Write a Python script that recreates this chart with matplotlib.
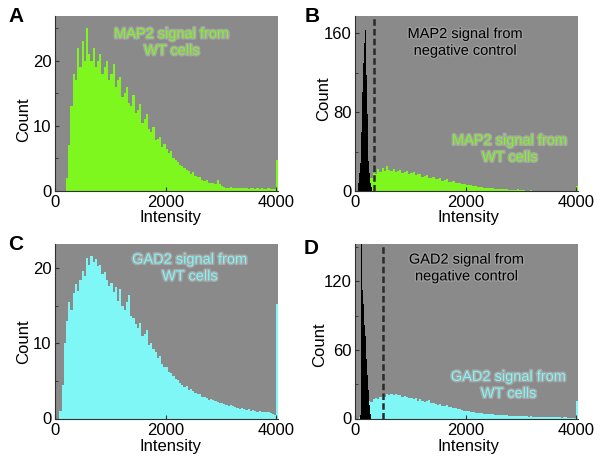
import numpy as np
import matplotlib
matplotlib.use("Agg")
import matplotlib.pyplot as plt
import matplotlib.patheffects as pe
from matplotlib.ticker import MultipleLocator

plt.rcParams['font.family'] = ['Liberation Sans', 'DejaVu Sans']

# ---------------- data ----------------
wt_bin_width = 40          # WT histograms: bins of 40 intensity units from 0
map2_wt_counts = [
    0, 0, 0, 0, 0, 2, 7, 13, 18, 17,
    22, 19, 23, 20, 25, 21, 20, 22, 19, 20,
    21, 18, 19, 20, 17, 18, 19.5, 16, 17, 17.5,
    14.5, 15, 16, 13.5, 13, 14.7, 12, 12.5, 13.4, 10.5,
    11, 11.9, 9.5, 9, 9.9, 7.8, 8, 8.3, 6.8, 7.3,
    6.5, 5.8, 6.2, 5.0, 4.8, 4.5, 4.0, 3.8, 3.5, 3.2,
    3.0, 2.6, 2.9, 2.3, 2.1, 2.2, 1.7, 1.6, 1.7, 1.3,
    1.2, 1.3, 1.1, 1.7, 1.0, 0.8, 0.6, 0.4, 0.5, 0.6,
    0.5, 0.4, 0.5, 0.5, 0.4, 0.5, 0.4, 0.3, 0.5, 0.4,
    0.3, 0.4, 0.3, 0.4, 0.3, 0.3, 0.4, 0.3, 0.3, 0.3,
    4.7,
]
gad2_wt_counts = [
    0, 0, 1, 4.5, 10, 13, 15.5, 14.5, 16.7, 17.9,
    17, 18.5, 19.6, 19, 21.4, 20.5, 21.7, 20.8, 21.2, 20.3,
    20.4, 19.2, 19.5, 18.5, 17.6, 18, 16.8, 17.5, 15.6, 17.2,
    15, 14.5, 15.5, 16.5, 13.6, 13.4, 12.6, 12.0, 12.7, 11,
    11.3, 11.8, 9.8, 10, 9.2, 8.8, 8.0, 8.3, 7.2, 6.9,
    6.8, 6.2, 6.0, 5.7, 5.2, 5.1, 4.7, 4.5, 4.2, 4.3,
    3.8, 3.9, 3.6, 3.4, 3.3, 3.2, 2.9, 2.8, 2.7, 2.5,
    2.6, 2.4, 2.3, 2.2, 2.1, 2.0, 1.9, 1.8, 1.7, 1.8,
    1.6, 1.5, 1.4, 1.3, 1.4, 1.2, 1.1, 1.2, 1.0, 1.1,
    1.0, 0.9, 1.0, 0.8, 0.9, 0.9, 0.8, 0.7, 0.6, 0.5,
    15.2,
]

neg_bin_width = 10         # negative-control histograms: bins of 10 units
map2_neg_start = 50
map2_neg_counts = [3, 8, 12, 18, 28, 40, 60, 80, 100, 118, 130, 142, 150,
                   163, 140, 118, 95, 78, 40, 30, 24, 18, 12, 8, 4, 2]
gad2_neg_start = 90
gad2_neg_counts = [3, 8, 200, 121, 112, 105, 100, 94, 82, 72, 62, 52, 45,
                   38, 33, 25, 18, 12, 8, 4]

map2_threshold = 335
gad2_threshold = 515

x_ticks = [0, 2000, 4000]
panel_letters = ['A', 'B', 'C', 'D']

# ---------------- style ----------------
GRAY = '#8a8a8a'
GREEN = '#7ef71e'
CYAN = '#80f7f7'
XMAX = 4030

fig = plt.figure(figsize=(6.0, 4.68), dpi=100)

W = 223 / 600
H = 175 / 468
pos = {
    'A': [55 / 600, 1 - 191 / 468, W, H],
    'B': [355 / 600, 1 - 191 / 468, W, H],
    'C': [55 / 600, 1 - 418.5 / 468, W, H],
    'D': [355 / 600, 1 - 418.5 / 468, W, H],
}

glow = [pe.Stroke(linewidth=2.2, foreground='#a6a6a6'), pe.Normal()]
dark_glow = [pe.Stroke(linewidth=2.0, foreground='#9c9c9c'), pe.Normal()]


def wt_edges(n):
    return np.arange(n + 1) * wt_bin_width


def neg_edges(start, n):
    return start + np.arange(n + 1) * neg_bin_width


def style(ax, ymax, major, minor, ylab_xy, xlab_xy):
    ax.set_facecolor(GRAY)
    ax.set_xlim(0, XMAX)
    ax.set_ylim(0, ymax)
    ax.set_xticks(x_ticks)
    ax.yaxis.set_major_locator(MultipleLocator(major))
    ax.yaxis.set_minor_locator(MultipleLocator(minor))
    for s in ['top', 'right']:
        ax.spines[s].set_visible(False)
    for s in ['left', 'bottom']:
        ax.spines[s].set_color('#303030')
        ax.spines[s].set_linewidth(0.8)
    ax.tick_params(axis='both', which='major', direction='in', length=3,
                   width=0.8, labelsize=12, color='#303030')
    ax.tick_params(axis='y', which='major', pad=2.5)
    ax.tick_params(axis='x', which='major', pad=3.2)
    ax.tick_params(axis='y', which='minor', direction='in', length=2,
                   width=0.6, color='#303030')
    ax.set_xlabel('Intensity', fontsize=12, va='center', ha='center')
    ax.set_ylabel('Count', fontsize=12, va='center', ha='center')
    ax.xaxis.set_label_coords(*xlab_xy)
    ax.yaxis.set_label_coords(*ylab_xy)


def label(ax, x, y, s, color, effects):
    ax.text(x, y, s, transform=ax.transAxes, ha='center', va='center',
            fontsize=10.5, color=color, linespacing=1.25, path_effects=effects)


# Panel A
axA = fig.add_axes(pos['A'])
axA.stairs(map2_wt_counts, wt_edges(len(map2_wt_counts)), fill=True,
           color=GREEN, linewidth=0)
style(axA, 26.9, 10, 5, (-0.14, 0.406), (0.519, -0.15))
label(axA, 0.525, 0.849, 'MAP2 signal from\nWT cells', GREEN, glow)

# Panel B
axB = fig.add_axes(pos['B'])
axB.stairs(map2_wt_counts, wt_edges(len(map2_wt_counts)), fill=True,
           color=GREEN, linewidth=0)
axB.stairs(map2_neg_counts, neg_edges(map2_neg_start, len(map2_neg_counts)),
           fill=True, color='black', linewidth=0)
axB.axvline(map2_threshold, color='#2a2a2a', lw=1.8, dashes=(2.6, 1.3))
style(axB, 177.5, 80, 40, (-0.142, 0.53), (0.511, -0.15))
label(axB, 0.496, 0.849, 'MAP2 signal from\nnegative control', 'black', dark_glow)
label(axB, 0.695, 0.24, 'MAP2 signal from\nWT cells', GREEN, glow)

# Panel C
axC = fig.add_axes(pos['C'])
axC.stairs(gad2_wt_counts, wt_edges(len(gad2_wt_counts)), fill=True,
           color=CYAN, linewidth=0)
style(axC, 23.3, 10, 5, (-0.14, 0.44), (0.519, -0.158))
label(axC, 0.606, 0.86, 'GAD2 signal from\nWT cells', CYAN, glow)

# Panel D
axD = fig.add_axes(pos['D'])
axD.stairs(gad2_wt_counts, wt_edges(len(gad2_wt_counts)), fill=True,
           color=CYAN, linewidth=0)
axD.stairs(gad2_neg_counts, neg_edges(gad2_neg_start, len(gad2_neg_counts)),
           fill=True, color='black', linewidth=0)
axD.axvline(gad2_threshold, color='#2a2a2a', lw=1.8, dashes=(2.6, 1.3))
style(axD, 153, 60, 30, (-0.16, 0.42), (0.507, -0.158))
label(axD, 0.502, 0.86, 'GAD2 signal from\nnegative control', 'black', dark_glow)
label(axD, 0.69, 0.19, 'GAD2 signal from\nWT cells', CYAN, glow)

# Panel letters
letter_pos = {'A': (16, 17), 'B': (312, 17), 'C': (16, 245), 'D': (311, 248)}
for L in panel_letters:
    x, y = letter_pos[L]
    fig.text(x / 600, 1 - y / 468, L, fontsize=15, fontweight='bold',
             ha='center', va='center')

fig.savefig('out.png', dpi=100)
